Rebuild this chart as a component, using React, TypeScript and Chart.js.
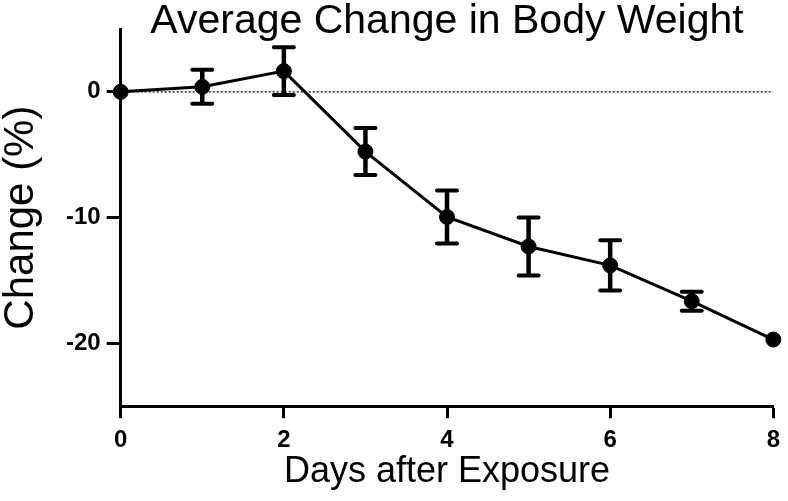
import React, { useEffect, useRef } from "react";
import { Chart, registerables } from "chart.js";

Chart.register(...registerables);

const days = [0, 1, 2, 3, 4, 5, 6, 7, 8];
const meanChange = [0, 0.4, 1.65, -4.75, -9.95, -12.3, -13.8, -16.65, -19.7];
const errChange = [0, 1.35, 1.9, 1.87, 2.1, 2.3, 2.0, 0.75, 0];
const yTickValues = [-20, -10, 0];
const xTickStep = 2;
const titleText = "Average Change in Body Weight";
const xTitle = "Days after Exposure";
const yTitle = "Change (%)";

const FONT = "'Liberation Sans', Arial, Helvetica, sans-serif";

const errorBarPlugin = {
  id: "errorBars",
  afterDatasetsDraw(chart: any) {
    const { ctx } = chart;
    const xs = chart.scales.x;
    const ys = chart.scales.y;
    ctx.save();
    ctx.strokeStyle = "#000";
    days.forEach((d, i) => {
      const e = errChange[i];
      if (!e) return;
      const px = xs.getPixelForValue(d);
      const top = ys.getPixelForValue(meanChange[i] + e);
      const bot = ys.getPixelForValue(meanChange[i] - e);
      ctx.lineWidth = 4.5;
      ctx.lineCap = "butt";
      ctx.beginPath();
      ctx.moveTo(px, top);
      ctx.lineTo(px, bot);
      ctx.stroke();
      ctx.lineWidth = 4;
      ctx.lineCap = "round";
      ctx.beginPath();
      ctx.moveTo(px - 10, top);
      ctx.lineTo(px + 10, top);
      ctx.moveTo(px - 10, bot);
      ctx.lineTo(px + 10, bot);
      ctx.stroke();
    });
    ctx.restore();
  },
};

export default function App() {
  const ref = useRef<HTMLCanvasElement | null>(null);
  useEffect(() => {
    if (!ref.current) return;
    const chart = new Chart(ref.current, {
      type: "line",
      data: {
        datasets: [
          {
            label: "Change",
            data: days.map((d, i) => ({ x: d, y: meanChange[i] })),
            borderColor: "#000",
            backgroundColor: "#000",
            borderWidth: 3,
            pointRadius: 7.5,
            pointBorderWidth: 1,
            pointBackgroundColor: "#000",
            pointBorderColor: "#000",
            clip: false as any,
          },
          {
            label: "zero",
            data: [
              { x: days[0], y: 0 },
              { x: days[days.length - 1], y: 0 },
            ],
            borderColor: "#111",
            borderWidth: 1.3,
            borderDash: [2, 2],
            pointRadius: 0,
          },
        ],
      },
      options: {
        responsive: false,
        animation: false,
        maintainAspectRatio: false,
        layout: { padding: { left: 0, right: 13, top: 0, bottom: 11 } },
        plugins: {
          legend: { display: false },
          tooltip: { enabled: false },
          title: {
            display: true,
            text: titleText,
            fullSize: false,
            color: "#000",
            font: { family: FONT, size: 41, weight: "normal", lineHeight: 1 },
            padding: { top: 1, bottom: -13 },
          },
        },
        scales: {
          x: {
            type: "linear",
            min: 0,
            max: 8,
            border: { display: true, width: 3, color: "#000" },
            grid: {
              display: true,
              drawOnChartArea: false,
              drawTicks: true,
              tickLength: 12,
              tickWidth: 3,
              tickColor: "#000",
            },
            ticks: {
              stepSize: xTickStep,
              color: "#000",
              padding: 8,
              font: { family: FONT, size: 24, weight: "bold" },
              maxRotation: 0,
            },
            title: {
              display: true,
              text: xTitle,
              color: "#000",
              font: { family: FONT, size: 36, weight: "normal", lineHeight: 1 },
              padding: { top: -9, bottom: 0 },
            },
          },
          y: {
            type: "linear",
            min: -25,
            max: 5,
            afterBuildTicks: (scale: any) => {
              scale.ticks = yTickValues.map((v) => ({ value: v }));
            },
            border: { display: true, width: 3, color: "#000" },
            grid: {
              display: true,
              drawOnChartArea: false,
              drawTicks: true,
              tickLength: 14,
              tickWidth: 3,
              tickColor: "#000",
            },
            ticks: {
              color: "#000",
              padding: 6,
              font: { family: FONT, size: 24, weight: "bold" },
            },
            title: {
              display: true,
              text: yTitle,
              color: "#000",
              font: { family: FONT, size: 42, weight: "normal", lineHeight: 1 },
              padding: { top: 0, bottom: 18 },
            },
          },
        },
      },
      plugins: [errorBarPlugin],
    });
    return () => chart.destroy();
  }, []);
  return (
    <div style={{ position: "absolute", left: 0, top: 0, width: 788, height: 501, background: "#fff" }}>
      <canvas ref={ref} width={788} height={501} style={{ width: 788, height: 501 }} />
    </div>
  );
}
